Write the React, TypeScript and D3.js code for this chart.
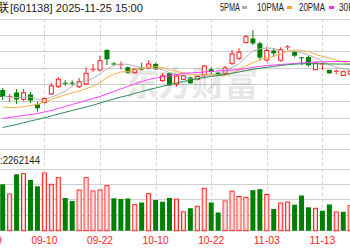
import React from 'react';
import * as d3 from 'd3';

const leadDates = ['08-29', '09-01'];
const dates = ['09-02','09-03','09-04','09-05','09-08','09-09','09-10','09-11','09-12','09-15','09-16','09-17','09-18','09-19','09-22','09-23','09-24','09-25','09-26','09-29','09-30','10-09','10-10','10-13','10-14','10-15','10-16','10-17','10-20','10-21','10-22','10-23','10-24','10-27','10-28','10-29','10-30','10-31','11-03','11-04','11-05','11-06','11-07','11-10','11-11','11-12','11-13','11-14','11-17','11-18','11-19'];
const tickDates = ['08-29', '09-10', '09-22', '10-10', '10-22', '11-03', '11-13'];

const open = [63.49,61.21,62.73,60.67,62.12,59.15,59.70,62.28,64.49,65.67,65.70,64.49,65.31,69.40,69.55,75.61,71.52,70.91,70.37,68.73,70.15,70.06,71.37,66.31,68.55,65.31,66.73,67.27,66.67,68.03,69.76,68.73,68.55,71.58,73.09,77.82,79.09,77.64,72.58,75.46,72.49,76.31,75.00,73.40,73.49,69.64,71.15,69.55,68.94,67.88,68.34];
const high = [64.09,62.28,63.79,63.79,62.88,59.94,61.21,65.61,67.43,66.52,66.40,67.12,70.37,71.37,73.79,75.82,71.97,72.06,70.61,70.00,71.76,72.58,71.67,68.55,68.79,68.03,68.03,67.58,67.88,71.06,70.37,68.94,70.76,75.61,76.12,80.15,81.67,78.12,76.61,76.12,76.43,77.12,75.40,73.40,73.88,72.06,71.76,69.70,69.70,69.34,69.55];
const low = [60.46,59.85,59.25,60.15,59.55,56.91,59.40,61.97,64.09,64.70,64.80,64.09,65.00,68.94,69.03,71.06,70.76,69.76,68.49,68.49,69.34,69.76,69.55,66.00,64.70,64.49,66.52,65.31,66.37,67.03,68.03,67.88,68.03,71.06,72.58,77.64,77.12,72.58,72.06,73.58,72.06,75.61,73.40,71.06,70.55,69.55,69.55,68.34,68.34,67.73,67.73];
const close = [61.37,61.52,60.61,62.67,60.30,57.94,60.91,64.70,66.73,65.50,65.46,66.00,68.55,69.61,72.37,72.79,71.28,71.12,68.73,69.76,69.70,71.37,69.76,67.73,64.91,67.73,67.80,65.52,67.58,70.76,68.94,68.03,70.15,74.40,74.94,79.64,77.58,73.28,75.46,74.61,75.70,76.52,73.88,73.24,70.97,71.58,71.37,68.55,69.15,69.03,69.24];
const prevClose = 62.0;
const volume = [1701000,1346000,2068000,2090000,1859000,1628000,2116000,1701000,1943000,1199000,1089000,1492000,1943000,1456000,1492000,1650000,1188000,1162000,1181000,953000,1034000,1357000,1126000,1063000,1199000,1155000,693000,825000,895000,1555000,1034000,667000,1089000,1448000,1254000,1225000,1485000,1522000,1327000,796000,1016000,1052000,953000,1291000,858000,821000,730000,961000,686000,693000,917000];

const ma5 = [61.52,61.36,61.21,61.36,61.30,60.61,60.49,61.30,62.12,63.15,64.64,65.67,66.42,67.00,68.39,69.85,70.91,71.42,71.24,70.73,70.15,70.18,69.91,69.70,68.73,68.30,67.58,66.73,66.70,67.85,68.09,68.15,69.09,70.45,71.30,73.42,75.33,75.97,76.18,76.12,75.33,75.12,75.24,74.79,74.06,73.24,72.21,71.15,70.33,69.94,69.46];
const ma10 = [58.33,58.18,58.18,58.49,58.79,59.09,59.85,60.61,61.36,61.97,62.64,63.18,63.88,64.58,65.76,67.24,68.30,68.94,69.12,69.55,70.00,70.39,70.52,70.30,69.61,69.15,68.70,68.18,68.03,68.09,68.15,67.88,67.91,68.58,69.58,70.76,71.76,72.52,73.30,73.70,74.36,75.21,75.61,75.48,75.09,74.27,73.67,73.18,72.55,72.00,71.36];
const ma20 = [54.85,55.15,55.45,55.76,56.06,56.36,56.82,57.27,57.88,58.49,59.09,59.70,60.30,60.91,61.52,62.27,63.03,63.79,64.55,65.30,66.06,66.67,67.12,67.42,67.73,68.18,68.48,68.64,68.79,68.94,69.09,69.24,69.39,69.55,69.70,70.00,70.30,70.61,70.91,71.06,71.21,71.36,71.52,71.67,71.82,71.97,72.03,72.09,72.12,72.12,72.12];
const ma30 = [52.12,52.58,53.03,53.58,54.09,54.55,55.06,55.61,56.21,56.73,57.27,57.79,58.33,58.85,59.55,60.15,60.76,61.36,61.82,62.42,63.03,63.55,64.09,64.61,65.09,65.61,66.06,66.52,66.91,67.27,67.58,67.88,68.18,68.55,68.94,69.39,69.76,70.06,70.36,70.61,70.91,71.15,71.30,71.42,71.45,71.42,71.42,71.36,71.36,71.33,71.30];

const maxVolume = 2262144;
const priceTicks = [50, 55, 60, 65, 70, 75, 80, 85];
const legendItems = [
  { label: '5PMA', color: '#aaaaaa', tx: 220, tw: 20, mx: 242 },
  { label: '10PMA', color: '#f5a623', tx: 257, tw: 27, mx: 287 },
  { label: '20PMA', color: '#ff33ff', tx: 299, tw: 26, mx: 329 },
  { label: '30PMA', color: '#2e8b57', tx: 339, tw: 27, mx: 369 },
];

const RED = '#ff1a1a';
const PINK = '#ffb0b0';
const GREEN = '#008000';

export default function App() {
  const W = 350, H = 250;
  const step = 6.95;
  const r0 = 2.7 - 2 * step - step / 2;
  const allDates = [...leadDates, ...dates];
  const x = d3.scaleBand<string>().domain(allDates).range([r0, r0 + allDates.length * step]).padding(0);
  const cx = (d: string) => (x(d) as number) + step / 2;
  const yP = d3.scaleLinear().domain([50, 85]).range([134.5, 19]);
  const yV = d3.scaleLinear().domain([0, maxVolume]).range([230.7, 169]);
  const volTicks = [0, 0.25, 0.5, 0.75, 1].map((f) => f * maxVolume);
  const bw = 5;

  const mkLine = (vals: number[]) =>
    d3.line<number>().x((_, i) => cx(dates[i])).y((v) => yP(v))(vals) as string;

  const maSeries = [
    { vals: ma5, color: '#b4b4b4' },
    { vals: ma10, color: '#f5b041' },
    { vals: ma20, color: '#ff40ff' },
    { vals: ma30, color: '#2e8b57' },
  ];

  return (
    <svg width={W} height={H} style={{ position: 'fixed', left: 0, top: 0, background: '#fff' }}
      fontFamily="'Liberation Sans', 'DejaVu Sans', sans-serif">
      <rect x={0} y={0} width={W} height={H} fill="#fff" />
      {/* title */}
      <text x={9} y={12} fontSize={12} textAnchor="end" fill="#222" fontFamily="'Noto Sans CJK SC'">工业富联</text>
      <text x={10} y={12} fontSize={11} fill="#222" textLength={133} lengthAdjust="spacingAndGlyphs">[601138] 2025-11-25 15:00</text>
      {/* legend */}
      {legendItems.map((it) => (
        <g key={it.label}>
          <text x={it.tx} y={11} fontSize={10} fill="#222" textLength={it.tw} lengthAdjust="spacingAndGlyphs">{it.label}</text>
          <rect x={it.mx} y={6} width={5} height={3} fill={it.color} />
        </g>
      ))}
      {/* price grid */}
      {priceTicks.map((p) => (
        <line key={'pg' + p} x1={0} x2={W} y1={Math.floor(yP(p)) + 0.5} y2={Math.floor(yP(p)) + 0.5} stroke="#cfcfcf" strokeWidth={1} />
      ))}
      {/* volume grid */}
      <line x1={0} x2={W} y1={149.5} y2={149.5} stroke="#cfcfcf" strokeWidth={1} />
      {volTicks.map((v) => (
        <line key={'vg' + v} x1={0} x2={W} y1={Math.floor(yV(v)) + 0.5} y2={Math.floor(yV(v)) + 0.5} stroke="#cfcfcf" strokeWidth={1} />
      ))}
      {/* vertical dashed */}
      {tickDates.map((d) => (
        <line key={'vd' + d} x1={Math.round(cx(d)) + 0.5} x2={Math.round(cx(d)) + 0.5} y1={19} y2={231} stroke="#cfcfcf" strokeDasharray="3,3" strokeWidth={1} />
      ))}
      {/* watermark */}
      <text x={125} y={96} fontSize={34} fontWeight="bold" fill="#000" opacity={0.09} textLength={133} lengthAdjust="spacingAndGlyphs" fontFamily="'Noto Sans CJK SC'">东方财富</text>
      {/* candles */}
      {dates.map((d, i) => {
        const o = open[i], c = close[i], h = high[i], l = low[i];
        const up = c >= o;
        const xc = cx(d);
        const top = yP(Math.max(o, c));
        const bot = yP(Math.min(o, c));
        const bh = Math.max(bot - top, 1);
        if (up) {
          return (
            <g key={'c' + d}>
              <line x1={xc} x2={xc} y1={yP(h)} y2={top} stroke={RED} />
              <line x1={xc} x2={xc} y1={top + bh} y2={yP(l)} stroke={RED} />
              {bh <= 1.5 ? (
                <line x1={xc - bw / 2} x2={xc + bw / 2} y1={top} y2={top} stroke={RED} />
              ) : (
                <rect x={xc - bw / 2 + 0.5} y={top} width={bw - 1} height={bh} fill="#fff" stroke={RED} strokeWidth={1} />
              )}
            </g>
          );
        }
        return (
          <g key={'c' + d}>
            <line x1={xc} x2={xc} y1={yP(h)} y2={yP(l)} stroke={GREEN} />
            <rect x={xc - bw / 2} y={top} width={bw} height={bh} fill={GREEN} />
          </g>
        );
      })}
      {/* MA lines */}
      {maSeries.map((s, k) => (
        <path key={'ma' + k} d={mkLine(s.vals)} fill="none" stroke={s.color} strokeWidth={1} />
      ))}
      {/* volume label */}
      <text x={-1} y={164} fontSize={10} textAnchor="end" fill="#222" fontFamily="'Noto Sans CJK SC'">成交量</text>
      <text x={0} y={164} fontSize={10} fill="#222" textLength={40} lengthAdjust="spacingAndGlyphs">:2262144</text>
      {/* volume bars */}
      {dates.map((d, i) => {
        const pc = i === 0 ? prevClose : close[i - 1];
        const up = close[i] >= pc;
        const xc = cx(d);
        const top = yV(volume[i]);
        const bottom = yV(0);
        if (up) {
          return (
            <g key={'v' + d}>
              <rect x={xc - bw / 2 + 0.5} y={top} width={bw - 1} height={bottom - top} fill="#fff" stroke={RED} strokeWidth={1} />
              <rect x={xc - bw / 2 + 1.5} y={top + 1} width={bw - 3} height={Math.max(bottom - top - 2, 0)} fill="none" stroke={PINK} strokeWidth={0.8} />
            </g>
          );
        }
        return <rect key={'v' + d} x={xc - bw / 2} y={top} width={bw} height={bottom - top} fill={GREEN} />;
      })}
      {/* date labels */}
      {tickDates.map((d) => (
        <text key={'t' + d} x={cx(d)} y={244} fontSize={11} textAnchor="middle" fill={RED} textLength={26} lengthAdjust="spacingAndGlyphs">{d}</text>
      ))}
    </svg>
  );
}
